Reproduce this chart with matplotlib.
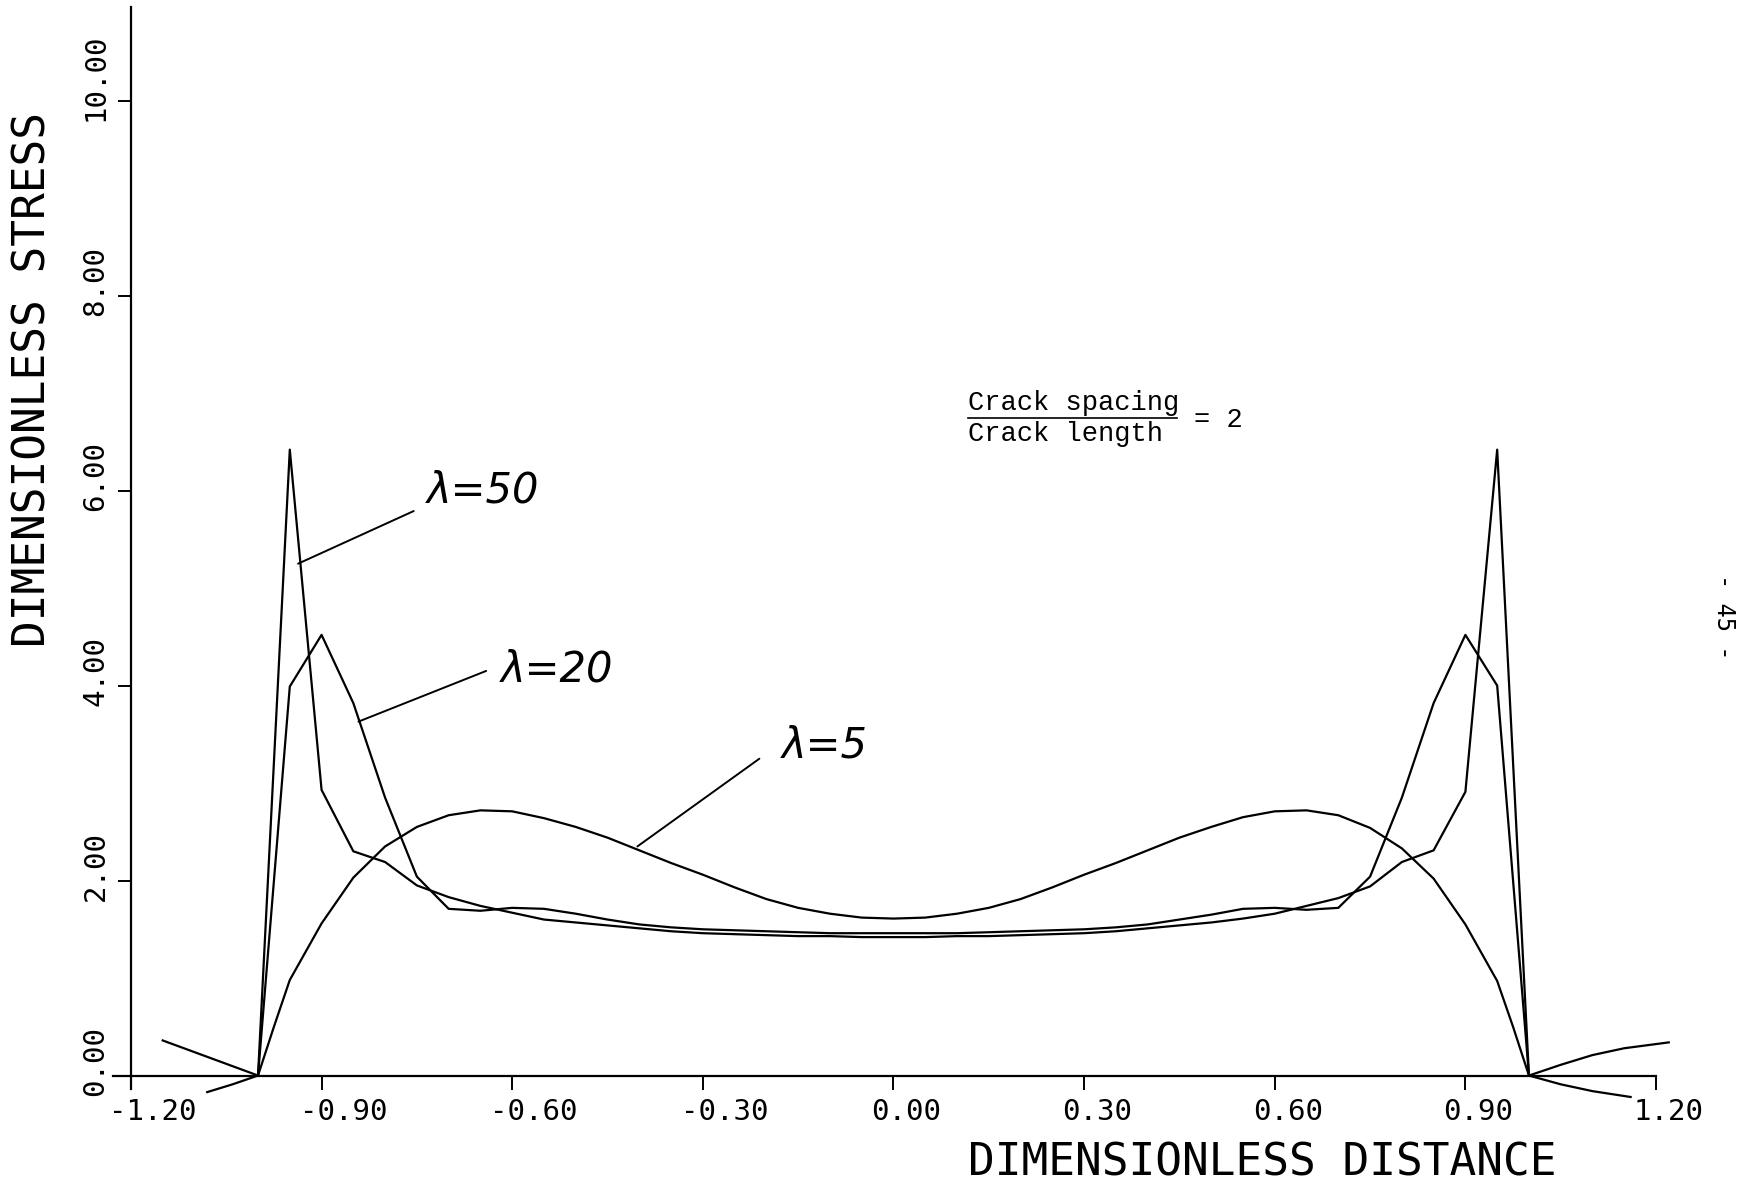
import matplotlib
matplotlib.use("Agg")
import matplotlib.pyplot as plt
from matplotlib.lines import Line2D
from matplotlib.transforms import ScaledTranslation

# ---------------- data ----------------
x_lam5 = [-1.00, -0.975, -0.95, -0.90, -0.85, -0.80, -0.75, -0.70, -0.65, -0.60, -0.55,
          -0.50, -0.45, -0.40, -0.35, -0.30, -0.25, -0.20, -0.15, -0.10, -0.05, 0.00,
          0.05, 0.10, 0.15, 0.20, 0.25, 0.30, 0.35, 0.40, 0.45, 0.50, 0.55, 0.60,
          0.65, 0.70, 0.75, 0.80, 0.85, 0.90, 0.95, 0.975, 1.00]
y_lam5 = [0.00, 0.50, 0.98, 1.56, 2.03, 2.35, 2.55, 2.67, 2.72, 2.71, 2.64,
          2.55, 2.44, 2.31, 2.18, 2.06, 1.93, 1.81, 1.72, 1.66, 1.62, 1.61,
          1.62, 1.66, 1.72, 1.81, 1.93, 2.06, 2.18, 2.31, 2.44, 2.55, 2.65, 2.71,
          2.72, 2.67, 2.54, 2.33, 2.02, 1.55, 0.97, 0.50, 0.00]

x_lam20 = [-1.00, -0.95, -0.90, -0.85, -0.80, -0.75, -0.70, -0.65, -0.60, -0.55,
           -0.50, -0.45, -0.40, -0.35, -0.30, -0.25, -0.20, -0.15, -0.10, -0.05, 0.00,
           0.05, 0.10, 0.15, 0.20, 0.25, 0.30, 0.35, 0.40, 0.45, 0.50, 0.55, 0.60,
           0.65, 0.70, 0.75, 0.80, 0.85, 0.90, 0.95, 1.00]
y_lam20 = [0.00, 3.99, 4.52, 3.82, 2.85, 2.04, 1.71, 1.69, 1.72, 1.71,
           1.66, 1.60, 1.55, 1.52, 1.50, 1.49, 1.48, 1.47, 1.46, 1.46, 1.46,
           1.46, 1.46, 1.47, 1.48, 1.49, 1.50, 1.52, 1.55, 1.60, 1.65, 1.71, 1.72,
           1.70, 1.72, 2.04, 2.85, 3.82, 4.52, 4.00, 0.00]

x_lam50 = [-1.00, -0.95, -0.90, -0.85, -0.80, -0.75, -0.70, -0.65, -0.60, -0.55,
           -0.50, -0.45, -0.40, -0.35, -0.30, -0.25, -0.20, -0.15, -0.10, -0.05, 0.00,
           0.05, 0.10, 0.15, 0.20, 0.25, 0.30, 0.35, 0.40, 0.45, 0.50, 0.55, 0.60,
           0.65, 0.70, 0.75, 0.80, 0.85, 0.90, 0.95, 1.00]
y_lam50 = [0.00, 6.42, 2.93, 2.30, 2.19, 1.95, 1.83, 1.74, 1.67, 1.60,
           1.57, 1.54, 1.51, 1.48, 1.46, 1.45, 1.44, 1.43, 1.43, 1.42, 1.42,
           1.42, 1.43, 1.43, 1.44, 1.45, 1.46, 1.48, 1.51, 1.54, 1.57, 1.61, 1.66,
           1.74, 1.82, 1.94, 2.19, 2.31, 2.91, 6.42, 0.00]

# stresses outside the crack faces
x_out_upper_left = [-1.15, -1.10, -1.05, -1.00]
y_out_upper_left = [0.36, 0.24, 0.12, 0.00]
x_out_lower_left = [-1.00, -1.04, -1.08]
y_out_lower_left = [0.00, -0.09, -0.17]
x_out_upper_right = [1.00, 1.05, 1.10, 1.15, 1.22]
y_out_upper_right = [0.00, 0.11, 0.21, 0.28, 0.34]
x_out_lower_right = [1.00, 1.05, 1.10, 1.16]
y_out_lower_right = [0.00, -0.09, -0.16, -0.22]

x_ticks = [-1.20, -0.90, -0.60, -0.30, 0.00, 0.30, 0.60, 0.90, 1.20]
x_tick_labels = ["-1.20", "-0.90", "-0.60", "-0.30", "0.00", "0.30", "0.60", "0.90", "1.20"]
y_ticks = [0, 2, 4, 6, 8, 10]
y_tick_labels = ["0.00", "2.00", "4.00", "6.00", "8.00", "10.00"]

lambda_labels = ["\u03bb=50", "\u03bb=20", "\u03bb=5"]

# ---------------- figure ----------------
MONO = ["DejaVu Sans Mono"]
fig = plt.figure(figsize=(17.41, 11.87), dpi=100)
fig.patch.set_facecolor("white")
ax = fig.add_axes([0.0752, 0.0939, 0.876, 0.9002])
ax.set_xlim(-1.2, 1.2)
ax.set_ylim(0, 10.96)
ax.set_facecolor("white")

for s in ["top", "right"]:
    ax.spines[s].set_visible(False)
for s in ["left", "bottom"]:
    ax.spines[s].set_linewidth(1.6)
    ax.spines[s].set_color("black")

# small extensions of the axes beyond the origin (plotter style)
ax.plot([-0.012, 0], [0, 0], transform=ax.transAxes, color="black", lw=1.6, clip_on=False)
ax.plot([0, 0], [-0.013, 0], transform=ax.transAxes, color="black", lw=1.6, clip_on=False)

lw = 1.6
ax.plot(x_lam5, y_lam5, color="black", lw=lw, clip_on=False)
ax.plot(x_lam20, y_lam20, color="black", lw=lw, clip_on=False)
ax.plot(x_lam50, y_lam50, color="black", lw=lw, clip_on=False)
for xs, ys in [(x_out_upper_left, y_out_upper_left), (x_out_lower_left, y_out_lower_left),
               (x_out_upper_right, y_out_upper_right), (x_out_lower_right, y_out_lower_right)]:
    ax.plot(xs, ys, color="black", lw=lw, clip_on=False)

# ticks
ax.set_xticks(x_ticks, x_tick_labels)
ax.set_yticks(y_ticks, y_tick_labels)
ax.tick_params(axis="x", direction="out", length=10, width=1.4, pad=6, labelsize=21)
ax.tick_params(axis="y", direction="out", length=9.4, width=1.4, pad=6, labelsize=21,
               labelrotation=90)
dx = ScaledTranslation(-0.22, 0, fig.dpi_scale_trans)
for lab in ax.get_xticklabels():
    lab.set_fontfamily(MONO)
    lab.set_horizontalalignment("left")
    lab.set_transform(lab.get_transform() + dx)
dy = ScaledTranslation(0, -0.20, fig.dpi_scale_trans)
for lab in ax.get_yticklabels():
    lab.set_fontfamily(MONO)
    lab.set_verticalalignment("bottom")
    lab.set_horizontalalignment("right")
    lab.set_transform(lab.get_transform() + dy)

# axis titles
fig.text(0.019, 0.680, "DIMENSIONLESS STRESS", rotation=90, ha="center", va="center",
         fontsize=32, family=MONO)
fig.text(0.725, 0.0202, "DIMENSIONLESS DISTANCE", ha="center", va="center",
         fontsize=32, family=MONO)

# ratio note
SERIF_MONO = ["Liberation Mono"]
fig.text(0.556, 0.6605, "Crack spacing", ha="left", va="center", fontsize=19.5,
         family=SERIF_MONO)
fig.text(0.556, 0.6344, "Crack length", ha="left", va="center", fontsize=19.5,
         family=SERIF_MONO)
fig.text(0.6858, 0.6462, "= 2", ha="left", va="center", fontsize=19.5, family=SERIF_MONO)
fig.add_artist(Line2D([0.556, 0.676], [0.6479, 0.6479], transform=fig.transFigure,
                      color="black", lw=1.2))

# hand-written lambda labels with leader lines
hand = dict(fontsize=30, fontstyle="italic", family=["DejaVu Sans"], ha="left", va="center")
ax.annotate("", xy=(-0.937, 5.25), xytext=(-0.755, 5.79),
            arrowprops=dict(arrowstyle="-", lw=1.4, color="black", shrinkA=0, shrinkB=0))
ax.text(-0.734, 6.0, lambda_labels[0], **hand)
ax.annotate("", xy=(-0.842, 3.63), xytext=(-0.641, 4.15),
            arrowprops=dict(arrowstyle="-", lw=1.4, color="black", shrinkA=0, shrinkB=0))
ax.text(-0.618, 4.16, lambda_labels[1], **hand)
ax.annotate("", xy=(-0.403, 2.35), xytext=(-0.211, 3.25),
            arrowprops=dict(arrowstyle="-", lw=1.4, color="black", shrinkA=0, shrinkB=0))
ax.text(-0.176, 3.39, lambda_labels[2], **hand)

# page number at the right edge
fig.text(0.990, 0.48, "- 45 -", rotation=-90, ha="center", va="center", fontsize=17,
         family=MONO)

fig.savefig("out.png", dpi=100, facecolor="white")
